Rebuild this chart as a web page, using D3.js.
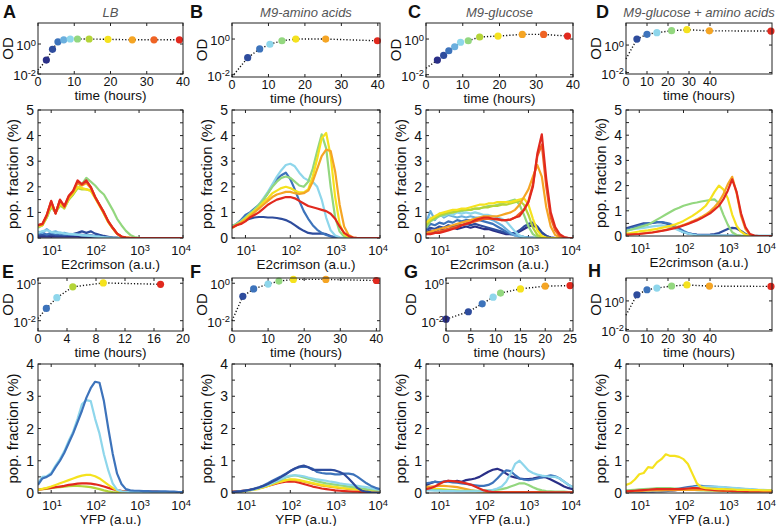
<!DOCTYPE html>
<html><head><meta charset="utf-8">
<script src="https://cdn.jsdelivr.net/npm/d3@7"></script>
<style>body{margin:0;background:#fff}text{font-family:"Liberation Sans",Arial,sans-serif;fill:#111}</style>
</head><body><svg id="chart" width="778" height="526"></svg>
<script>
// ---------- colours (time-point colour map) ----------
const jet = {c0:'#2a2f87',c1:'#2e4c9d',c2:'#3d73bb',c3:'#6aafde',c4:'#8ed6eb',c5:'#93d77f',c6:'#b4d438',c7:'#f5e21e',c8:'#f5a524',c9:'#ef6324',c10:'#e1291e'};

// ---------- growth curves (time in hours, OD) ----------
const odA_time=[2.3,4.0,5.5,7.1,8.9,10.9,14.1,19.3,26,32,39], odA_val=[0.085,0.44,1.4,1.9,2.15,2.15,2.15,2.05,1.9,1.9,1.9], odA_col=['c0','c1','c2','c3','c4','c5','c6','c7','c8','c9','c10'], odA_start=0.018;
const odB_time=[4.3,7.6,10.4,13.7,17.5,25.7,39.9], odB_val=[0.09,0.28,0.51,0.8,1.0,1.0,0.8], odB_col=['c1','c2','c4','c5','c7','c8','c10'], odB_start=0.0075;
const odC_time=[3.1,4.8,6.2,7.8,9.4,11.5,14.6,19.6,26.2,32,38.5], odC_val=[0.066,0.12,0.22,0.37,0.66,0.8,1.3,1.47,1.82,1.82,1.47], odC_col=['c0','c1','c2','c3','c4','c5','c6','c7','c8','c9','c10'], odC_start=0.023;
const odD_time=[5.2,10,14.7,21.7,29,39.7,69], odD_val=[2.7,6,7.9,11,13,10.8,10.3], odD_col=['c1','c2','c4','c5','c7','c8','c10'], odD_start=0.1;
const odE_time=[1.15,2.6,4.8,9.0,16.9], odE_val=[0.045,0.17,0.64,1.04,0.88], odE_col=['c2','c4','c6','c7','c10'], odE_start=0.013;
const odF_time=[3,6,10,13,17,26,40], odF_val=[0.2,0.5,0.9,1.3,1.6,1.6,1.4], odF_col=['c1','c2','c4','c5','c7','c8','c10'], odF_start=0.01;
const odG_time=[0,4.5,7.3,9.5,11,15,20,25], odG_val=[0.012,0.03,0.08,0.18,0.3,0.5,0.7,0.75], odG_col=['c0','c1','c2','c4','c5','c7','c8','c10'], odG_start=0.012;
const odH_time=[5.2,10,14.7,21.7,29,39.7,69], odH_val=[2.7,6,7.9,11,13,10.8,10.3], odH_col=['c1','c2','c4','c5','c7','c8','c10'], odH_start=0.1;

// ---------- fluorescence histograms: x = log10(fluorescence, a.u.), y = pop. fraction (%) ----------
const logFluor=[0.7,0.8,0.9,1.0,1.1,1.2,1.3,1.4,1.5,1.6,1.7,1.8,1.9,2.0,2.1,2.2,2.3,2.4,2.5,2.6,2.7,2.8,2.9,3.0,3.1,3.2,3.3,3.4,3.5,3.6,3.7,3.8,3.9,4.0];

// A: LB, E2crimson
const hA_c0=[0.05,0.06,0.05,0.06,0.05,0.05,0.06,0.05,0.05,0.05,0.04,0.04,0.04,0.03,0.03,0.02,0.02,0.01,0.01,0,0,0,0,0,0,0,0,0,0,0,0,0,0,0];
const hA_c1=[0.10,0.12,0.10,0.13,0.10,0.11,0.10,0.12,0.15,0.20,0.26,0.20,0.26,0.17,0.12,0.08,0.05,0.02,0.01,0,0,0,0,0,0,0,0,0,0,0,0,0,0,0];
const hA_c2=[0.15,0.20,0.14,0.20,0.15,0.16,0.13,0.14,0.12,0.14,0.12,0.10,0.10,0.08,0.06,0.04,0.02,0.01,0,0,0,0,0,0,0,0,0,0,0,0,0,0,0,0];
const hA_c3=[0.25,0.20,0.35,0.22,0.26,0.18,0.20,0.15,0.14,0.12,0.11,0.09,0.08,0.06,0.04,0.03,0.01,0,0,0,0,0,0,0,0,0,0,0,0,0,0,0,0,0];
const hA_c4=[0.20,0.27,0.30,0.24,0.20,0.22,0.17,0.16,0.15,0.13,0.10,0.10,0.08,0.06,0.05,0.03,0.02,0.01,0,0,0,0,0,0,0,0,0,0,0,0,0,0,0,0];
const hA_c5=[0.40,0.50,0.80,1.20,1.00,1.25,1.20,1.50,1.70,1.95,2.10,2.35,2.20,2.05,1.85,1.70,1.40,1.10,0.75,0.50,0.28,0.12,0.04,0.01,0,0,0,0,0,0,0,0,0,0];
const hA_c6=[0.45,0.50,0.80,1.30,1.00,1.30,1.15,1.50,1.70,1.95,1.90,1.90,1.85,1.60,1.30,0.95,0.62,0.38,0.16,0.05,0.02,0,0,0,0,0,0,0,0,0,0,0,0,0];
const hA_c7=[0.45,0.50,0.85,1.30,1.00,1.35,1.20,1.55,1.75,2.00,1.95,1.90,1.85,1.55,1.25,0.95,0.62,0.38,0.16,0.05,0.02,0,0,0,0,0,0,0,0,0,0,0,0,0];
const hA_c8=[0.48,0.52,0.88,1.40,0.98,1.45,1.20,1.60,1.80,2.15,2.05,2.15,1.95,1.60,1.28,0.98,0.64,0.39,0.17,0.05,0.02,0,0,0,0,0,0,0,0,0,0,0,0,0];
const hA_c9=[0.50,0.55,0.90,1.42,0.96,1.48,1.22,1.62,1.82,2.20,2.08,2.20,1.98,1.60,1.30,1.00,0.65,0.40,0.17,0.06,0.02,0,0,0,0,0,0,0,0,0,0,0,0,0];
const hA_c10=[0.50,0.55,0.90,1.45,0.95,1.50,1.25,1.65,1.85,2.25,2.10,2.25,2.00,1.60,1.30,1.00,0.65,0.40,0.17,0.06,0.02,0.01,0,0,0,0,0,0,0,0,0,0,0,0];

// B: M9-amino acids, E2crimson
const hB_c1=[0.45,0.50,0.60,0.70,0.75,0.80,0.82,0.82,0.80,0.80,0.78,0.75,0.70,0.62,0.50,0.38,0.28,0.20,0.17,0.17,0.18,0.15,0.08,0.03,0.01,0,0,0,0,0,0,0,0,0];
const hB_c2=[0.45,0.55,0.70,0.90,1.00,1.15,1.30,1.50,1.75,2.05,2.30,2.45,2.55,2.30,1.90,1.45,1.05,0.75,0.50,0.32,0.20,0.12,0.06,0.02,0,0,0,0,0,0,0,0,0,0];
const hB_c4=[0.45,0.55,0.65,0.80,0.95,1.10,1.30,1.55,1.80,2.10,2.40,2.65,2.85,2.90,2.80,2.55,2.35,2.25,2.20,2.00,1.50,0.80,0.30,0.10,0.03,0,0,0,0,0,0,0,0,0];
const hB_c5=[0.45,0.55,0.65,0.80,0.95,1.10,1.30,1.50,1.75,2.00,2.20,2.35,2.40,2.35,2.20,2.05,2.00,2.20,2.70,3.40,4.05,3.50,2.00,0.80,0.25,0.06,0.01,0,0,0,0,0,0,0];
const hB_c7=[0.40,0.50,0.60,0.75,0.90,1.05,1.20,1.40,1.55,1.75,1.85,1.95,2.00,1.95,1.85,1.78,1.78,1.90,2.40,3.10,3.90,4.10,3.20,1.60,0.55,0.15,0.03,0,0,0,0,0,0,0];
const hB_c8=[0.40,0.50,0.60,0.70,0.85,1.00,1.15,1.30,1.45,1.60,1.70,1.75,1.80,1.80,1.75,1.72,1.75,1.85,2.20,2.70,3.20,3.45,3.40,2.60,1.30,0.45,0.12,0.02,0,0,0,0,0,0];
const hB_c10=[0.40,0.50,0.55,0.65,0.80,0.90,1.00,1.15,1.30,1.40,1.50,1.55,1.60,1.60,1.55,1.45,1.35,1.25,1.20,1.15,1.10,1.05,0.95,0.75,0.45,0.20,0.08,0.02,0,0,0,0,0,0];

// C: M9-glucose, E2crimson
const hC_c0=[0.20,0.30,0.25,0.35,0.30,0.35,0.40,0.35,0.40,0.45,0.40,0.45,0.40,0.35,0.35,0.30,0.25,0.20,0.15,0.15,0.20,0.25,0.35,0.45,0.50,0.40,0.20,0.08,0.02,0,0,0,0,0];
const hC_c1=[0.30,0.40,0.35,0.45,0.40,0.50,0.45,0.50,0.50,0.55,0.50,0.55,0.50,0.45,0.40,0.35,0.30,0.25,0.20,0.18,0.20,0.30,0.45,0.55,0.60,0.45,0.22,0.08,0.02,0,0,0,0,0];
const hC_c2=[0.35,0.55,0.50,0.60,0.55,0.65,0.60,0.70,0.65,0.70,0.70,0.72,0.70,0.65,0.60,0.55,0.45,0.35,0.25,0.15,0.10,0.08,0.05,0.03,0.02,0,0,0,0,0,0,0,0,0];
const hC_c3=[0.60,1.05,0.70,0.95,0.80,0.90,0.85,0.80,0.85,0.80,0.85,0.80,0.80,0.75,0.75,0.70,0.60,0.50,0.35,0.20,0.10,0.05,0.02,0,0,0,0,0,0,0,0,0,0,0];
const hC_c4=[0.50,0.80,0.75,0.90,0.85,0.95,0.90,1.00,0.95,1.00,0.95,1.00,0.95,0.90,0.90,0.85,0.80,0.75,0.65,0.45,0.25,0.10,0.04,0.01,0,0,0,0,0,0,0,0,0,0];
const hC_c5=[0.40,0.65,0.75,0.85,0.90,0.95,1.00,1.05,1.05,1.10,1.10,1.15,1.15,1.20,1.25,1.25,1.30,1.35,1.40,1.45,1.50,1.30,0.90,0.45,0.15,0.04,0.01,0,0,0,0,0,0,0];
const hC_c6=[0.50,0.70,0.80,0.90,0.95,1.00,1.00,1.05,1.10,1.10,1.10,1.15,1.15,1.20,1.20,1.25,1.25,1.30,1.30,1.35,1.40,1.45,1.30,0.90,0.40,0.12,0.03,0,0,0,0,0,0,0];
const hC_c7=[0.60,0.75,0.85,0.95,1.00,1.05,1.10,1.10,1.15,1.15,1.20,1.25,1.30,1.30,1.35,1.35,1.40,1.40,1.40,1.40,1.45,1.50,1.55,1.30,0.75,0.30,0.08,0.02,0,0,0,0,0,0];
const hC_c8=[0.20,0.25,0.30,0.35,0.40,0.45,0.50,0.55,0.60,0.65,0.70,0.75,0.80,0.85,0.85,0.85,0.85,0.90,0.95,1.00,1.10,1.30,1.60,1.90,2.40,2.85,2.40,1.20,0.45,0.12,0.03,0,0,0];
const hC_c9=[0.15,0.18,0.20,0.25,0.30,0.35,0.40,0.45,0.50,0.55,0.60,0.65,0.70,0.75,0.75,0.75,0.72,0.70,0.70,0.72,0.80,0.95,1.10,1.45,2.10,3.20,3.65,2.00,0.80,0.30,0.08,0.02,0,0];
const hC_c10=[0.15,0.15,0.20,0.20,0.25,0.30,0.35,0.40,0.50,0.55,0.60,0.70,0.75,0.80,0.80,0.75,0.75,0.70,0.70,0.72,0.80,0.85,1.10,1.40,2.00,3.30,4.05,2.30,1.00,0.43,0.15,0.04,0,0];

// D: M9-glucose + amino acids, E2crimson
const hD_c1=[0.30,0.35,0.40,0.45,0.50,0.50,0.52,0.55,0.55,0.50,0.45,0.35,0.25,0.15,0.10,0.08,0.06,0.05,0.05,0.06,0.08,0.12,0.20,0.28,0.32,0.30,0.20,0.08,0.02,0,0,0,0,0];
const hD_c2=[0.25,0.30,0.35,0.40,0.45,0.50,0.52,0.55,0.55,0.52,0.48,0.40,0.30,0.20,0.12,0.08,0.05,0.03,0.02,0.02,0.02,0.02,0.02,0.02,0.02,0.01,0,0,0,0,0,0,0,0];
const hD_c4=[0.20,0.25,0.28,0.30,0.32,0.35,0.38,0.40,0.42,0.40,0.35,0.30,0.22,0.15,0.10,0.06,0.03,0.02,0.02,0.02,0.02,0.02,0.02,0.02,0.02,0.02,0.02,0.02,0.02,0.02,0.02,0.02,0.02,0.02];
const hD_c5=[0.20,0.25,0.30,0.35,0.40,0.45,0.55,0.65,0.75,0.85,0.95,1.05,1.12,1.20,1.25,1.30,1.33,1.37,1.40,1.43,1.45,1.30,0.85,0.45,0.15,0.04,0.01,0,0,0,0,0,0,0];
const hD_c7=[0.10,0.12,0.15,0.18,0.20,0.22,0.25,0.28,0.32,0.36,0.40,0.45,0.52,0.60,0.70,0.80,0.92,1.05,1.20,1.45,1.75,2.00,1.85,1.50,0.85,0.40,0.17,0.05,0.01,0,0,0,0,0];
const hD_c8=[0.06,0.07,0.08,0.09,0.11,0.13,0.15,0.18,0.21,0.25,0.29,0.33,0.38,0.44,0.51,0.58,0.66,0.75,0.85,0.98,1.15,1.35,1.65,2.05,2.35,1.70,0.80,0.28,0.06,0.01,0,0,0,0];
const hD_c10=[0.05,0.06,0.07,0.08,0.10,0.12,0.14,0.17,0.20,0.23,0.27,0.31,0.36,0.42,0.48,0.55,0.62,0.70,0.80,0.90,1.05,1.20,1.45,1.80,2.25,1.75,0.90,0.35,0.08,0.02,0,0,0,0];

// E: LB, YFP
const hE_c2=[0.25,0.45,0.50,0.58,0.80,1.00,1.25,1.55,1.85,2.20,2.55,2.95,3.25,3.45,3.42,2.85,2.00,1.22,0.60,0.28,0.12,0.08,0.07,0.07,0.06,0.06,0.05,0.05,0.05,0.05,0.04,0.04,0.03,0.03];
const hE_c4=[0.30,0.50,0.52,0.62,0.85,1.05,1.30,1.62,1.90,2.30,2.75,2.88,2.85,2.30,1.84,1.20,0.70,0.30,0.10,0.05,0.04,0.03,0.03,0.03,0.03,0.02,0.02,0.02,0.02,0.02,0.02,0.02,0.02,0.02];
const hE_c6=[0.10,0.12,0.13,0.15,0.17,0.18,0.20,0.21,0.22,0.22,0.21,0.20,0.18,0.15,0.12,0.08,0.05,0.03,0.02,0.01,0,0,0,0,0,0,0,0,0,0,0,0,0,0];
const hE_c7=[0.10,0.13,0.16,0.20,0.25,0.30,0.35,0.40,0.45,0.50,0.54,0.56,0.56,0.52,0.45,0.35,0.25,0.16,0.08,0.04,0.02,0.01,0,0,0,0,0,0,0,0,0,0,0,0];
const hE_c10=[0.10,0.12,0.14,0.16,0.18,0.20,0.22,0.25,0.27,0.29,0.30,0.30,0.29,0.27,0.24,0.20,0.16,0.12,0.09,0.07,0.06,0.06,0.05,0.05,0.05,0.04,0.04,0.04,0.03,0.03,0.03,0.02,0.02,0.02];

// F: M9-amino acids, YFP
const hF_c1=[0.03,0.04,0.05,0.07,0.10,0.13,0.17,0.22,0.28,0.35,0.42,0.50,0.58,0.68,0.76,0.82,0.85,0.80,0.72,0.72,0.72,0.72,0.72,0.70,0.65,0.58,0.45,0.30,0.15,0.07,0.04,0.02,0.01,0.01];
const hF_c2=[0.03,0.04,0.06,0.08,0.10,0.14,0.18,0.23,0.30,0.38,0.45,0.52,0.60,0.68,0.75,0.80,0.82,0.80,0.75,0.65,0.62,0.60,0.60,0.58,0.58,0.60,0.60,0.58,0.50,0.40,0.30,0.22,0.16,0.12];
const hF_c4=[0.02,0.03,0.05,0.07,0.09,0.12,0.16,0.20,0.26,0.32,0.38,0.44,0.50,0.54,0.55,0.54,0.52,0.48,0.45,0.42,0.40,0.38,0.35,0.33,0.30,0.28,0.26,0.24,0.22,0.20,0.18,0.15,0.12,0.10];
const hF_c5=[0.02,0.03,0.05,0.07,0.09,0.12,0.16,0.20,0.25,0.30,0.36,0.42,0.48,0.52,0.55,0.52,0.48,0.44,0.40,0.36,0.33,0.30,0.28,0.26,0.24,0.22,0.20,0.18,0.16,0.14,0.12,0.11,0.10,0.09];
const hF_c7=[0.02,0.03,0.04,0.06,0.08,0.10,0.13,0.17,0.22,0.27,0.32,0.36,0.40,0.42,0.42,0.40,0.37,0.34,0.31,0.28,0.25,0.23,0.21,0.19,0.17,0.15,0.14,0.13,0.12,0.11,0.10,0.09,0.08,0.08];
const hF_c8=[0.03,0.04,0.05,0.07,0.09,0.12,0.15,0.19,0.23,0.28,0.32,0.36,0.39,0.41,0.40,0.38,0.35,0.32,0.29,0.26,0.23,0.21,0.19,0.17,0.15,0.14,0.12,0.11,0.10,0.09,0.08,0.07,0.06,0.05];
const hF_c10=[0.04,0.05,0.06,0.08,0.10,0.12,0.15,0.18,0.22,0.26,0.30,0.33,0.35,0.36,0.35,0.32,0.28,0.24,0.20,0.17,0.14,0.12,0.10,0.08,0.07,0.06,0.05,0.04,0.04,0.03,0.03,0.03,0.02,0.02];

// G: M9-glucose, YFP
const hG_c0=[0.25,0.30,0.35,0.32,0.35,0.38,0.35,0.38,0.35,0.40,0.42,0.45,0.50,0.58,0.66,0.72,0.75,0.70,0.60,0.52,0.48,0.45,0.43,0.43,0.45,0.48,0.50,0.48,0.42,0.35,0.28,0.20,0.15,0.12];
const hG_c2=[0.30,0.32,0.35,0.33,0.35,0.35,0.33,0.32,0.30,0.28,0.26,0.24,0.22,0.22,0.25,0.32,0.45,0.60,0.70,0.68,0.55,0.45,0.42,0.40,0.42,0.45,0.48,0.52,0.55,0.52,0.45,0.35,0.25,0.18];
const hG_c4=[0.08,0.08,0.07,0.07,0.06,0.06,0.06,0.05,0.05,0.05,0.05,0.05,0.05,0.06,0.08,0.10,0.14,0.20,0.35,0.60,0.90,1.00,0.85,0.70,0.62,0.57,0.54,0.52,0.50,0.50,0.45,0.35,0.25,0.18];
const hG_c5=[0.10,0.10,0.09,0.09,0.08,0.08,0.08,0.07,0.07,0.07,0.07,0.07,0.07,0.08,0.08,0.09,0.10,0.12,0.15,0.20,0.25,0.30,0.30,0.25,0.18,0.12,0.08,0.06,0.05,0.04,0.04,0.04,0.03,0.03];
const hG_c7=[0.15,0.14,0.13,0.12,0.11,0.10,0.09,0.08,0.07,0.06,0.05,0.05,0.04,0.04,0.04,0.03,0.03,0.03,0.03,0.03,0.03,0.03,0.03,0.03,0.03,0.03,0.03,0.03,0.03,0.03,0.03,0.03,0.03,0.03];
const hG_c8=[0.20,0.20,0.21,0.22,0.22,0.21,0.20,0.18,0.15,0.12,0.09,0.07,0.05,0.04,0.03,0.03,0.03,0.03,0.03,0.03,0.03,0.03,0.03,0.03,0.03,0.03,0.03,0.03,0.03,0.03,0.03,0.03,0.03,0.03];
const hG_c10=[0.12,0.15,0.20,0.28,0.35,0.38,0.37,0.35,0.33,0.30,0.26,0.20,0.14,0.08,0.05,0.03,0.03,0.02,0.02,0.02,0.02,0.02,0.02,0.02,0.02,0.02,0.02,0.02,0.02,0.02,0.02,0.02,0.02,0.02];

// H: M9-glucose + amino acids, YFP
const hH_c1=[0.02,0.02,0.03,0.03,0.03,0.04,0.04,0.05,0.05,0.06,0.07,0.08,0.10,0.12,0.15,0.18,0.20,0.20,0.20,0.19,0.18,0.17,0.16,0.15,0.14,0.13,0.12,0.11,0.10,0.09,0.08,0.08,0.07,0.07];
const hH_c2=[0.05,0.05,0.06,0.06,0.07,0.07,0.08,0.08,0.09,0.10,0.11,0.12,0.14,0.16,0.18,0.20,0.22,0.22,0.21,0.20,0.19,0.18,0.17,0.16,0.15,0.14,0.13,0.12,0.11,0.10,0.09,0.09,0.08,0.08];
const hH_c4=[0.05,0.05,0.05,0.06,0.06,0.06,0.07,0.07,0.08,0.08,0.09,0.10,0.11,0.12,0.14,0.16,0.18,0.19,0.20,0.20,0.20,0.19,0.18,0.17,0.16,0.15,0.14,0.13,0.12,0.11,0.10,0.10,0.09,0.09];
const hH_c5=[0.08,0.09,0.10,0.11,0.12,0.13,0.14,0.15,0.15,0.15,0.15,0.14,0.13,0.12,0.11,0.10,0.09,0.08,0.08,0.07,0.07,0.06,0.06,0.06,0.05,0.05,0.05,0.05,0.05,0.05,0.05,0.05,0.05,0.05];
const hH_c7=[0.25,0.30,0.42,0.58,0.62,0.80,0.78,0.95,1.05,1.20,1.15,1.15,1.12,1.05,0.90,0.60,0.30,0.18,0.15,0.14,0.13,0.12,0.12,0.11,0.11,0.10,0.10,0.10,0.09,0.09,0.09,0.08,0.08,0.08];
const hH_c8=[0.05,0.05,0.06,0.06,0.07,0.07,0.08,0.08,0.08,0.09,0.09,0.09,0.10,0.10,0.10,0.10,0.10,0.10,0.09,0.09,0.08,0.08,0.07,0.07,0.07,0.06,0.06,0.06,0.06,0.06,0.06,0.06,0.06,0.06];
const hH_c10=[0.05,0.06,0.07,0.08,0.09,0.10,0.11,0.12,0.12,0.12,0.12,0.12,0.12,0.13,0.14,0.15,0.15,0.14,0.12,0.10,0.09,0.08,0.07,0.07,0.06,0.06,0.06,0.05,0.05,0.05,0.05,0.05,0.05,0.05];

// ---------- axis ticks ----------
const fluorTicks=[1,2,3,4];            // exponents of 10
const odTicks=[-2,0];                  // exponents of 10

// ---------- drawing ----------
const svg=d3.select('#chart');
svg.append('rect').attr('width',778).attr('height',526).attr('fill','#fff');

function sup(sel,base,exp){
  sel.append('tspan').text(base);
  sel.append('tspan').attr('dy','-0.45em').attr('font-size','0.72em').text(exp);
}

function drawOD(p){
  const g=svg.append('g');
  const x=d3.scaleLinear().domain(p.xDom).range([p.x,p.x+p.w]);
  const y=d3.scaleLog().domain(p.yDom).range([p.y+p.h,p.y]);
  p.xTicks.forEach(t=>{
    g.append('line').attr('x1',x(t)).attr('x2',x(t)).attr('y1',p.y+p.h).attr('y2',p.y+p.h-3).attr('stroke','#222');
    g.append('line').attr('x1',x(t)).attr('x2',x(t)).attr('y1',p.y).attr('y2',p.y+3).attr('stroke','#222');
    g.append('text').attr('x',x(t)).attr('y',p.y+p.h+12).attr('text-anchor','middle').attr('font-size',12.5).text(t);
  });
  odTicks.forEach(e=>{
    const v=Math.pow(10,e), yy=y(v);
    g.append('line').attr('x1',p.x).attr('x2',p.x+3).attr('y1',yy).attr('y2',yy).attr('stroke','#222');
    g.append('line').attr('x1',p.x+p.w).attr('x2',p.x+p.w-3).attr('y1',yy).attr('y2',yy).attr('stroke','#222');
    const t=g.append('text').attr('x',p.x-2).attr('y',yy+6).attr('text-anchor','end').attr('font-size',13);
    sup(t,'10',e===0?'0':'-2');
  });
  const pts=[[0,p.start]].concat(p.time.map((t,i)=>[t,p.val[i]]));
  g.append('path').attr('d',d3.line().x(d=>x(d[0])).y(d=>y(d[1]))(pts))
    .attr('fill','none').attr('stroke','#111').attr('stroke-width',1.4).attr('stroke-dasharray','1.2,2');
  g.selectAll(null).data(p.time).enter().append('circle')
    .attr('cx',d=>x(d)).attr('cy',(d,i)=>y(p.val[i])).attr('r',3.6).attr('fill',(d,i)=>jet[p.col[i]]);
  g.append('rect').attr('x',p.x).attr('y',p.y).attr('width',p.w).attr('height',p.h).attr('fill','none').attr('stroke','#222').attr('stroke-width',1);
  g.append('text').attr('transform',`translate(${p.x-p.odOff},${p.y+p.h/2}) rotate(-90)`).attr('text-anchor','middle').attr('font-size',15).text('OD');
  g.append('text').attr('x',p.x+p.w/2).attr('y',p.y+p.h+26).attr('text-anchor','middle').attr('font-size',13.5).text('time (hours)');
  if(p.title) g.append('text').attr('x',p.x+p.w/2).attr('y',p.y-6).attr('text-anchor','middle').attr('font-size',13).attr('font-style','italic').style('fill','#555').text(p.title);
  g.append('text').attr('x',p.lx).attr('y',p.ly).attr('font-size',18).attr('font-weight','bold').text(p.letter);
}

function drawHist(p){
  const g=svg.append('g');
  const x=d3.scaleLinear().domain([0.7,4.0]).range([p.x,p.x+p.w]);
  const y=d3.scaleLinear().domain([0,p.yMax]).range([p.y+p.h,p.y]);
  for(let v=0; v<=p.yMax+1e-9; v+=0.5){
    const yy=y(v);
    g.append('line').attr('x1',p.x).attr('x2',p.x+3).attr('y1',yy).attr('y2',yy).attr('stroke','#222');
    g.append('line').attr('x1',p.x+p.w).attr('x2',p.x+p.w-3).attr('y1',yy).attr('y2',yy).attr('stroke','#222');
    if(Math.abs(v-Math.round(v))<1e-9)
      g.append('text').attr('x',p.x-4).attr('y',yy+5).attr('text-anchor','end').attr('font-size',14).text(Math.round(v));
  }
  fluorTicks.forEach(e=>{
    const xx=x(e);
    g.append('line').attr('x1',xx).attr('x2',xx).attr('y1',p.y+p.h).attr('y2',p.y+p.h-3).attr('stroke','#222');
    g.append('line').attr('x1',xx).attr('x2',xx).attr('y1',p.y).attr('y2',p.y+3).attr('stroke','#222');
    const lx = e===4 ? Math.min(xx-2, 766) : xx+1;
    const t=g.append('text').attr('x',lx).attr('y',p.y+p.h+17).attr('text-anchor','middle').attr('font-size',13);
    sup(t,'10',String(e));
  });
  const clip='clip'+p.letter;
  g.append('clipPath').attr('id',clip).append('rect').attr('x',p.x).attr('y',p.y-2).attr('width',p.w).attr('height',p.h+2);
  const line=d3.line().x((d,i)=>x(logFluor[i])).y(d=>y(d));
  p.curves.forEach(c=>{
    g.append('path').attr('d',line(c[1])).attr('fill','none').attr('stroke',jet[c[0]])
      .attr('stroke-width',2.2).attr('stroke-linejoin','round').attr('clip-path',`url(#${clip})`);
  });
  g.append('rect').attr('x',p.x).attr('y',p.y).attr('width',p.w).attr('height',p.h).attr('fill','none').attr('stroke','#222').attr('stroke-width',1);
  g.append('text').attr('transform',`translate(${p.x-20},${p.y+p.h/2}) rotate(-90)`).attr('text-anchor','middle').attr('font-size',15).text('pop. fraction (%)');
  g.append('text').attr('x',p.x+p.w/2).attr('y',p.y+p.h+31).attr('text-anchor','middle').attr('font-size',13.5).text(p.xlabel);
}

const cols=[{x:38,w:145},{x:232,w:148},{x:426,w:147},{x:626,w:146}];

drawOD({letter:'A',lx:3,ly:18,odOff:25,title:'LB',x:cols[0].x,w:cols[0].w,y:23,h:51,xDom:[0,40],xTicks:[0,10,20,30,40],yDom:[1e-2,Math.pow(10,1.4)],time:odA_time,val:odA_val,col:odA_col,start:odA_start});
drawOD({letter:'B',lx:190,ly:18,odOff:25,title:'M9-amino acids',x:cols[1].x,w:cols[1].w,y:23,h:54,xDom:[0,40.6],xTicks:[0,10,20,30,40],yDom:[Math.pow(10,-2.13),Math.pow(10,0.9)],time:odB_time,val:odB_val,col:odB_col,start:odB_start});
drawOD({letter:'C',lx:408,ly:18,odOff:25,title:'M9-glucose',x:cols[2].x,w:cols[2].w,y:23,h:54,xDom:[0,40],xTicks:[0,10,20,30,40],yDom:[Math.pow(10,-2.13),Math.pow(10,0.9)],time:odC_time,val:odC_val,col:odC_col,start:odC_start});
drawOD({letter:'D',lx:596,ly:18,odOff:25,title:'M9-glucose + amino acids',x:cols[3].x,w:cols[3].w,y:23,h:51,xDom:[0,69.5],xTicks:[0,10,20,30,40],yDom:[Math.pow(10,-2.1),Math.pow(10,1.6)],time:odD_time,val:odD_val,col:odD_col,start:odD_start});

drawOD({letter:'E',lx:2,ly:278,odOff:25,x:cols[0].x,w:cols[0].w,y:278,h:53,xDom:[0,20],xTicks:[0,4,8,12,16,20],yDom:[Math.pow(10,-2.55),Math.pow(10,0.28)],time:odE_time,val:odE_val,col:odE_col,start:odE_start});
drawOD({letter:'F',lx:190,ly:278,odOff:25,x:cols[1].x,w:cols[1].w,y:278,h:53,xDom:[0,41],xTicks:[0,10,20,30,40],yDom:[Math.pow(10,-2.55),Math.pow(10,0.28)],time:odF_time,val:odF_val,col:odF_col,start:odF_start});
drawOD({letter:'G',lx:404,ly:278,odOff:30,x:446,w:127,y:278,h:53,xDom:[0,25.6],xTicks:[0,5,10,15,20,25],yDom:[Math.pow(10,-2.55),Math.pow(10,0.28)],time:odG_time,val:odG_val,col:odG_col,start:odG_start});
drawOD({letter:'H',lx:588,ly:277,odOff:25,x:cols[3].x,w:cols[3].w,y:278,h:53,xDom:[0,69.5],xTicks:[0,10,20,30,40],yDom:[Math.pow(10,-2.1),Math.pow(10,1.6)],time:odH_time,val:odH_val,col:odH_col,start:odH_start});

drawHist({letter:'A',x:cols[0].x,w:cols[0].w,y:110,h:128,yMax:5,xlabel:'E2crimson (a.u.)',
  curves:[['c0',hA_c0],['c1',hA_c1],['c2',hA_c2],['c3',hA_c3],['c4',hA_c4],['c5',hA_c5],['c6',hA_c6],['c7',hA_c7],['c8',hA_c8],['c9',hA_c9],['c10',hA_c10]]});
drawHist({letter:'B',x:cols[1].x,w:cols[1].w,y:110,h:128,yMax:5,xlabel:'E2crimson (a.u.)',
  curves:[['c1',hB_c1],['c2',hB_c2],['c4',hB_c4],['c5',hB_c5],['c7',hB_c7],['c8',hB_c8],['c10',hB_c10]]});
drawHist({letter:'C',x:cols[2].x,w:cols[2].w,y:110,h:128,yMax:5,xlabel:'E2crimson (a.u.)',
  curves:[['c0',hC_c0],['c1',hC_c1],['c2',hC_c2],['c3',hC_c3],['c4',hC_c4],['c5',hC_c5],['c6',hC_c6],['c7',hC_c7],['c8',hC_c8],['c9',hC_c9],['c10',hC_c10]]});
drawHist({letter:'D',x:cols[3].x,w:cols[3].w,y:110,h:126,yMax:5,xlabel:'E2crimson (a.u.)',
  curves:[['c1',hD_c1],['c2',hD_c2],['c4',hD_c4],['c5',hD_c5],['c7',hD_c7],['c8',hD_c8],['c10',hD_c10]]});
drawHist({letter:'E',x:cols[0].x,w:cols[0].w,y:364,h:129,yMax:4,xlabel:'YFP (a.u.)',
  curves:[['c6',hE_c6],['c10',hE_c10],['c7',hE_c7],['c4',hE_c4],['c2',hE_c2]]});
drawHist({letter:'F',x:cols[1].x,w:cols[1].w,y:364,h:129,yMax:4,xlabel:'YFP (a.u.)',
  curves:[['c10',hF_c10],['c8',hF_c8],['c7',hF_c7],['c5',hF_c5],['c4',hF_c4],['c2',hF_c2],['c1',hF_c1]]});
drawHist({letter:'G',x:cols[2].x,w:cols[2].w,y:364,h:129,yMax:4,xlabel:'YFP (a.u.)',
  curves:[['c7',hG_c7],['c8',hG_c8],['c5',hG_c5],['c0',hG_c0],['c2',hG_c2],['c4',hG_c4],['c10',hG_c10]]});
drawHist({letter:'H',x:cols[3].x,w:cols[3].w,y:364,h:129,yMax:4,xlabel:'YFP (a.u.)',
  curves:[['c1',hH_c1],['c2',hH_c2],['c4',hH_c4],['c5',hH_c5],['c8',hH_c8],['c10',hH_c10],['c7',hH_c7]]});
</script></body></html>
